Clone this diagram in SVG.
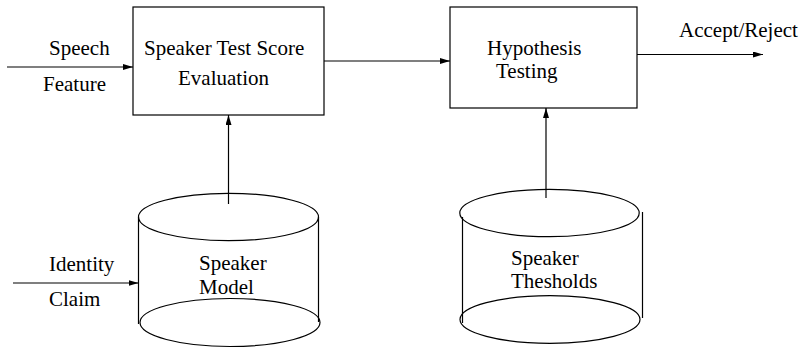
<svg xmlns="http://www.w3.org/2000/svg" width="804" height="348" viewBox="0 0 804 348">
<defs>
<style>
.box{fill:#fff;stroke:#000;stroke-width:1.2}
.cyl{fill:none;stroke:#000;stroke-width:1.2}
.ln{fill:none;stroke:#000;stroke-width:1.2}
text{font-family:"Liberation Serif","Times New Roman",serif;font-size:21px;fill:#000}
</style>
<marker id="ah" viewBox="0 0 10 6" refX="10" refY="3" markerWidth="10" markerHeight="6" markerUnits="userSpaceOnUse" orient="auto">
<path d="M0,0 L10,3 L0,6 Z" fill="#000"/>
</marker>
</defs>
<rect width="804" height="348" fill="#fff"/>
<g id="connectors">
<line class="ln" x1="7" y1="67" x2="133" y2="67" marker-end="url(#ah)"/>
<line class="ln" x1="324" y1="61" x2="450" y2="61" marker-end="url(#ah)"/>
<line class="ln" x1="637" y1="54.5" x2="763" y2="54.5" marker-end="url(#ah)"/>
<line class="ln" x1="228.5" y1="204" x2="228.5" y2="115" marker-end="url(#ah)"/>
<line class="ln" x1="546" y1="198" x2="546" y2="108" marker-end="url(#ah)"/>
<line class="ln" x1="13" y1="283" x2="138.5" y2="283" marker-end="url(#ah)"/>
</g>
<g id="speech-feature">
<text x="49" y="55">Speech</text>
<text x="43" y="91">Feature</text>
</g>
<g id="score-evaluation">
<rect class="box" x="133" y="7" width="191" height="108" fill-opacity="0"/>
<text x="144" y="55">Speaker Test Score</text>
<text x="178" y="85">Evaluation</text>
</g>
<g id="hypothesis-testing">
<rect class="box" x="450" y="7" width="187" height="101" fill-opacity="0"/>
<text x="487" y="55">Hypothesis</text>
<text x="496" y="78">Testing</text>
</g>
<g id="accept-reject">
<text x="679" y="37">Accept/Reject</text>
</g>
<g id="identity-claim">
<text x="49" y="271">Identity</text>
<text x="49" y="306">Claim</text>
</g>
<g id="speaker-model">
<ellipse class="cyl" cx="228.5" cy="217" rx="90" ry="23.7"/>
<line class="cyl" x1="138.5" y1="217" x2="138.5" y2="324"/>
<line class="cyl" x1="318.5" y1="217" x2="318.5" y2="322"/>
<ellipse class="cyl" cx="230" cy="322.5" rx="90" ry="24"/>
<text x="199" y="270">Speaker</text>
<text x="199" y="294">Model</text>
</g>
<g id="speaker-thresholds">
<ellipse class="cyl" cx="549.5" cy="213" rx="89.7" ry="23.7"/>
<line class="cyl" x1="462.5" y1="217" x2="462.5" y2="323"/>
<line class="cyl" x1="642.5" y1="212" x2="642.5" y2="318"/>
<ellipse class="cyl" cx="550" cy="319.5" rx="90" ry="23.8"/>
<text x="511" y="265">Speaker</text>
<text x="511" y="288">Thesholds</text>
</g>
</svg>
